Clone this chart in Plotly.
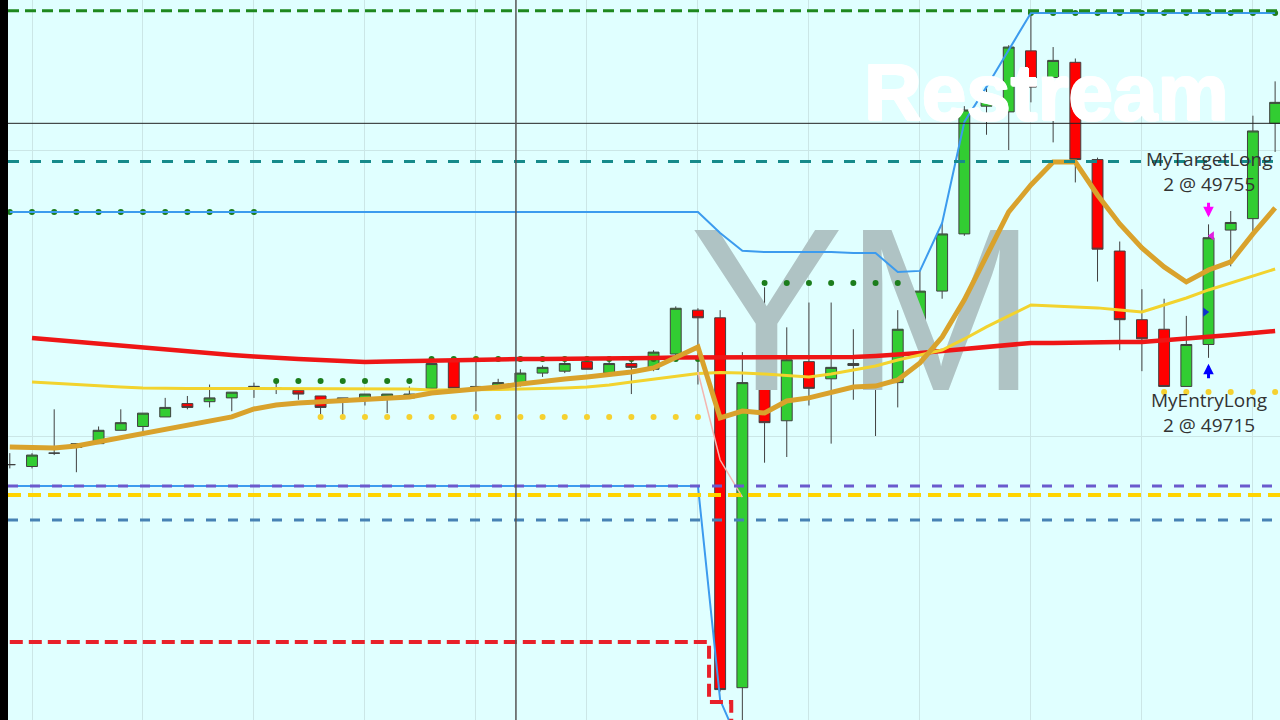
import plotly.graph_objects as go

# ---------------- data (bar index, prices) ----------------
bars = list(range(58))

opens = [49635, 49634, 49641, 49644, 49646, 49653, 49655, 49660, 49667, 49668,
         49670, 49676, 49675, 49674, 49671, 49668, 49669, 49670, 49670, 49675,
         49690, 49675, 49676, 49677, 49683, 49684, 49689, 49683, 49688, 49685,
         49693, 49716, 49712, 49518, 49676, 49658, 49689, 49680, 49687, 49690,
         49678, 49710, 49726, 49756, 49823, 49820, 49852, 49838, 49846, 49795,
         49747, 49711, 49706, 49676, 49698, 49758, 49764, 49814]
highs = [49641, 49641, 49664, 49646, 49655, 49664, 49662, 49670, 49671, 49677,
         49673, 49678, 49678, 49674, 49671, 49670, 49672, 49672, 49676, 49688,
         49690, 49690, 49680, 49685, 49687, 49689, 49690, 49689, 49689, 49695,
         49718, 49717, 49716, 49694, 49728, 49707, 49720, 49720, 49706, 49705,
         49716, 49737, 49762, 49823, 49833, 49855, 49872, 49854, 49848, 49796,
         49752, 49727, 49722, 49713, 49761, 49768, 49818, 49836]
lows = [49633, 49633, 49640, 49631, 49646, 49653, 49652, 49660, 49664, 49665,
        49663, 49670, 49672, 49669, 49661, 49661, 49666, 49662, 49670, 49675,
        49675, 49663, 49675, 49676, 49681, 49683, 49685, 49683, 49672, 49684,
        49692, 49677, 49516, 49496, 49636, 49639, 49666, 49646, 49669, 49650,
        49665, 49706, 49722, 49755, 49808, 49800, 49825, 49804, 49783, 49731,
        49695, 49684, 49676, 49676, 49691, 49739, 49757, 49799]
closes = [49635, 49640, 49641, 49646, 49653, 49657, 49662, 49665, 49665, 49670,
          49673, 49676, 49675, 49672, 49665, 49670, 49672, 49672, 49672, 49688,
          49675, 49676, 49678, 49683, 49686, 49688, 49685, 49688, 49686, 49694,
          49717, 49712, 49517, 49678, 49657, 49690, 49675, 49686, 49688, 49679,
          49706, 49726, 49756, 49821, 49829, 49854, 49833, 49847, 49795, 49748,
          49711, 49701, 49676, 49698, 49754, 49762, 49810, 49825]

ma_red = [None, 49701.4, 49700.4, 49699.3, 49698.3, 49697.2, 49696.2, 49695.1, 49694.1, 49693.3,
          49692.5, 49691.7, 49690.9, 49690.4, 49689.9, 49689.4, 49688.8, 49689.1, 49689.4, 49689.6,
          49689.9, 49690.1, 49690.4, 49690.4, 49690.4, 49690.4, 49690.7, 49690.7, 49690.9, 49690.9,
          49691.2, 49691.2, 49691.5, 49691.5, 49691.5, 49691.5, 49691.5, 49691.5, 49691.5, 49692.0,
          49692.5, 49693.5, 49694.6, 49695.6, 49696.7, 49697.7, 49698.8, 49698.8, 49699.1, 49699.1,
          49699.3, 49699.3, 49700.1, 49700.9, 49701.9, 49703.0, 49704.0, 49705.1]

ma_yellow = [None, 49678.3, 49677.6, 49676.8, 49676.2, 49675.7, 49675.2, 49674.9, 49674.9, 49674.9,
             49674.9, 49674.9, 49674.9, 49674.7, 49674.7, 49674.7, 49674.7, 49674.7, 49674.7, 49674.1,
             49674.1, 49674.1, 49674.4, 49674.7, 49674.9, 49675.2, 49675.7, 49676.8, 49678.3, 49679.9,
             49681.5, 49682.8, 49683.3, 49683.1, 49682.5, 49681.8, 49681.0, 49682.5, 49684.6, 49686.7,
             49689.9, 49692.5, 49695.1, 49700.9, 49707.2, 49713.0, 49718.7, 49718.2, 49717.7, 49717.2,
             49716.1, 49715.1, 49718.7, 49722.4, 49726.6, 49730.3, 49733.9, 49737.6]

ma_gold = [49644.2, 49644.2, 49643.7, 49644.8, 49646.9, 49649.0, 49651.6, 49653.7, 49655.8, 49657.9,
           49660.0, 49664.2, 49666.3, 49667.3, 49667.9, 49668.4, 49668.9, 49669.4, 49670.5, 49672.6,
           49673.6, 49674.1, 49675.7, 49677.3, 49678.9, 49679.9, 49681.0, 49682.0, 49683.6, 49685.7,
           49691.5, 49696.7, 49659.5, 49663.1, 49662.1, 49668.4, 49670.0, 49673.1, 49675.7, 49676.2,
           49679.4, 49688.3, 49701.9, 49721.4, 49745.0, 49767.5, 49781.7, 49793.7, 49793.7, 49776.4,
           49761.2, 49748.6, 49738.7, 49730.8, 49737.1, 49741.3, 49756.0, 49769.6]

channel_upper = [49767.5, 49767.5, 49767.5, 49767.5, 49767.5, 49767.5, 49767.5, 49767.5, 49767.5, 49767.5,
                 49767.5, 49767.5, 49767.5, 49767.5, 49767.5, 49767.5, 49767.5, 49767.5, 49767.5, 49767.5,
                 49767.5, 49767.5, 49767.5, 49767.5, 49767.5, 49767.5, 49767.5, 49767.5, 49767.5, 49767.5,
                 49767.5, 49767.5, 49756.5, 49747.1, 49746.5, 49746.5, 49746.5, 49746.5, 49746.0, 49746.0,
                 49736.0, 49736.6, 49761.7, 49814.7, 49833.1, 49852.5, 49871.9, 49871.9, 49871.9, 49871.9,
                 49871.9, 49871.9, 49871.9, 49871.9, 49871.9, 49871.9, 49871.9, 49871.9]

lower_bars = list(range(34))
channel_lower = [49623.8, 49623.8, 49623.8, 49623.8, 49623.8, 49623.8, 49623.8, 49623.8, 49623.8, 49623.8,
                 49623.8, 49623.8, 49623.8, 49623.8, 49623.8, 49623.8, 49623.8, 49623.8, 49623.8, 49623.8,
                 49623.8, 49623.8, 49623.8, 49623.8, 49623.8, 49623.8, 49623.8, 49623.8, 49623.8, 49623.8,
                 49623.8, 49623.8, 49511.5, 49484.8]

stop_bars = list(range(34))
stop_line = [49541.9, 49541.9, 49541.9, 49541.9, 49541.9, 49541.9, 49541.9, 49541.9, 49541.9, 49541.9,
             49541.9, 49541.9, 49541.9, 49541.9, 49541.9, 49541.9, 49541.9, 49541.9, 49541.9, 49541.9,
             49541.9, 49541.9, 49541.9, 49541.9, 49541.9, 49541.9, 49541.9, 49541.9, 49541.9, 49541.9,
             49541.9, 49541.9, 49510.5, 49480.0]

pink_bars = [31, 32, 33]
pink_line = [49683.6, 49637.4, 49618.0]

green_dots = [49767.5, 49767.5, 49767.5, 49767.5, 49767.5, 49767.5, 49767.5, 49767.5, 49767.5, 49767.5,
              49767.5, 49767.5, 49678.9, 49678.9, 49678.9, 49678.9, 49678.9, 49678.9, 49678.9, 49690.4,
              49690.4, 49690.4, 49690.4, 49690.4, 49690.4, 49690.4, 49690.4, 49690.4, 49690.4, 49690.4,
              49690.4, 49690.4, None, None, 49730.3, 49730.3, 49730.3, 49730.3, 49730.3, 49730.3,
              49730.3, None, None, None, None, None, 49871.9, 49871.9, 49871.9, 49871.9,
              49871.9, 49871.9, 49871.9, 49871.9, 49871.9, 49871.9, 49871.9, 49871.9]

yellow_dots = [None, None, None, None, None, None, None, None, None, None,
               None, None, None, None, 49660.0, 49660.0, 49660.0, 49660.0, 49660.0, 49660.0,
               49660.0, 49660.0, 49660.0, 49660.0, 49660.0, 49660.0, 49660.0, 49660.0, 49660.0, 49660.0,
               49660.0, 49660.0, None, None, None, None, None, None, None, None,
               None, None, None, None, None, None, None, None, None, None,
               None, None, 49673.1, 49673.1, 49673.1, 49673.1, 49673.1, 49673.1]

# horizontal dashed levels
level_prices = [49873.1, 49794.0, 49623.8, 49619.1, 49605.9]
level_colors = ["#1E881E", "#168A8A", "#6A5ACD", "#FFD400", "#4682B4"]
level_widths = [3, 3, 3, 4, 3]
level_dashes = ["11px,6px", "11px,11px", "10px,12px", "13px,7px", "10px,12px"]

crosshair_bar = 22.8
crosshair_price = 49814.0

exec_bar = 54
entry_price = 49715
exit_price = 49755
target_label = "MyTargetLong<br>2 @ 49755"
entry_label = "MyEntryLong<br>2 @ 49715"
instrument = "YM"
watermark_pos = (38.45, 49704.5)

# ---------------- figure ----------------
fig = go.Figure()

fig.add_trace(go.Scatter(x=[watermark_pos[0]], y=[watermark_pos[1]], mode="text",
                         text=[instrument], textposition="middle center",
                         textfont=dict(family="Liberation Sans", size=232, color="#AFC3C4"),
                         hoverinfo="skip", showlegend=False))

fig.add_trace(go.Candlestick(x=bars, open=opens, high=highs, low=lows, close=closes,
                             increasing=dict(fillcolor="#32CD32", line=dict(color="#404040", width=1)),
                             decreasing=dict(fillcolor="#FF0000", line=dict(color="#404040", width=1)),
                             whiskerwidth=0, showlegend=False, hoverinfo="skip"))

fig.add_trace(go.Scatter(x=bars, y=green_dots, mode="markers",
                         marker=dict(size=6, color="#1C7D1C"), showlegend=False, hoverinfo="skip"))

fig.add_trace(go.Scatter(x=bars, y=ma_red, mode="lines",
                         line=dict(color="#EE1616", width=4.5), showlegend=False, hoverinfo="skip"))
fig.add_trace(go.Scatter(x=bars, y=ma_yellow, mode="lines",
                         line=dict(color="#F2D32E", width=3), showlegend=False, hoverinfo="skip"))
fig.add_trace(go.Scatter(x=pink_bars, y=pink_line, mode="lines",
                         line=dict(color="#F4B6B0", width=1.5), showlegend=False, hoverinfo="skip"))
fig.add_trace(go.Scatter(x=bars, y=ma_gold, mode="lines",
                         line=dict(color="#D9A22C", width=5), showlegend=False, hoverinfo="skip"))
fig.add_trace(go.Scatter(x=bars, y=channel_upper, mode="lines",
                         line=dict(color="#3C9BEE", width=2), showlegend=False, hoverinfo="skip"))
fig.add_trace(go.Scatter(x=lower_bars, y=channel_lower, mode="lines",
                         line=dict(color="#3C9BEE", width=2), showlegend=False, hoverinfo="skip"))
fig.add_trace(go.Scatter(x=stop_bars, y=stop_line, mode="lines",
                         line=dict(color="#E8202A", width=4, dash="13px,6px", shape="hvh"),
                         showlegend=False, hoverinfo="skip"))
fig.add_trace(go.Scatter(x=bars, y=yellow_dots, mode="markers",
                         marker=dict(size=6, color="#F5D130"), showlegend=False, hoverinfo="skip"))

# execution markers
fig.add_trace(go.Scatter(x=[exec_bar - 0.15], y=[entry_price], mode="markers",
                         marker=dict(symbol="triangle-right", size=8, color="#1030D0"),
                         showlegend=False, hoverinfo="skip"))
fig.add_trace(go.Scatter(x=[exec_bar + 0.15], y=[exit_price], mode="markers",
                         marker=dict(symbol="triangle-left", size=8, color="#E020E0"),
                         showlegend=False, hoverinfo="skip"))

shapes = []
for p, c, w, d in zip(level_prices, level_colors, level_widths, level_dashes):
    shapes.append(dict(type="line", xref="paper", x0=0, x1=1, yref="y", y0=p, y1=p,
                       line=dict(color=c, width=w, dash=d)))
shapes.append(dict(type="line", xref="paper", x0=0, x1=1, yref="y", y0=crosshair_price,
                   y1=crosshair_price, line=dict(color="#222222", width=1)))
shapes.append(dict(type="line", xref="x", x0=crosshair_bar, x1=crosshair_bar, yref="paper",
                   y0=0, y1=1, line=dict(color="#555555", width=1.5)))

thick = "1px 0 0 #fff, -1px 0 0 #fff, 0 1px 0 #fff, 0 -1px 0 #fff, 1px 1px 0 #fff, -1px -1px 0 #fff"
annotations = [
    dict(xref="paper", yref="paper", x=0.8168, y=0.872, text="<b>Restream</b>", showarrow=False,
         font=dict(family="Liberation Sans", size=80, color="#FFFFFF", shadow=thick),
         xanchor="center", yanchor="middle"),
    dict(x=exec_bar, y=exit_price, yshift=64, text=target_label, showarrow=False,
         font=dict(family="Open Sans", size=19, color="#333333"), xanchor="center", yanchor="middle"),
    dict(x=exec_bar, y=entry_price, yshift=-100, text=entry_label, showarrow=False,
         font=dict(family="Open Sans", size=19, color="#333333"), xanchor="center", yanchor="middle"),
    dict(x=exec_bar, y=highs[exec_bar], yshift=7, text="", showarrow=True, ax=0, ay=-16,
         arrowhead=2, arrowsize=0.7, arrowwidth=3, arrowcolor="#FF00FF"),
    dict(x=exec_bar, y=lows[exec_bar], yshift=-6, text="", showarrow=True, ax=0, ay=16,
         arrowhead=2, arrowsize=0.7, arrowwidth=3, arrowcolor="#0000FF"),
]

fig.update_layout(
    width=1280, height=720,
    margin=dict(l=8, r=0, t=0, b=0),
    paper_bgcolor="black", plot_bgcolor="#E0FFFF",
    shapes=shapes, annotations=annotations,
    showlegend=False,
    xaxis=dict(range=[-0.081, 57.22], showticklabels=False, showgrid=True, gridcolor="#CBE6E6",
               gridwidth=1, tick0=1, dtick=5, zeroline=False, rangeslider=dict(visible=False),
               fixedrange=True),
    yaxis=dict(range=[49501.05, 49878.68], showticklabels=False, showgrid=True, gridcolor="#CBE6E6",
               gridwidth=1, tick0=49800, dtick=150, zeroline=False, fixedrange=True),
)

fig.write_html("out.html", config={"displayModeBar": False},
               post_script="document.body.style.margin='0';document.body.style.overflow='hidden';")
